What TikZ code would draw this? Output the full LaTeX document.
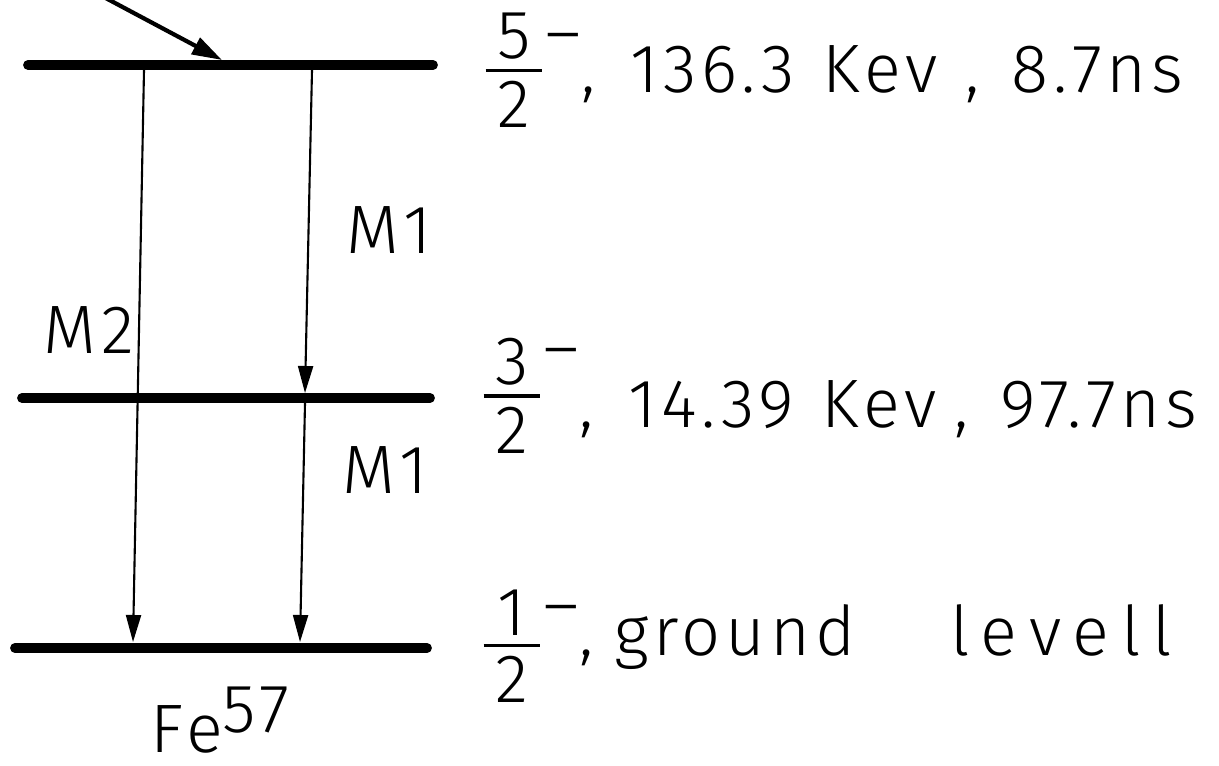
\documentclass[tikz,border=0pt]{standalone}
\usepackage{fontspec}
\setmainfont{Fira Sans}[UprightFont={* Light}, LetterSpace=7]
\usetikzlibrary{arrows.meta, positioning}

% spin fraction: numerator, raise of fraction, raise of parity sign
\newcommand{\spin}[3]{%
	\raisebox{#2}{$\vcenter{\hbox to 16pt{\hfil #1\hfil}\kern2.5pt\hrule height 1pt\kern2.5pt\hbox to 16pt{\hfil 2\hfil}}$}%
	\raisebox{#3}{\kern1pt--}}

\begin{document}
\begin{tikzpicture}[
	>=Stealth,
	every node/.style={font=\fontsize{19.5}{22}\selectfont, inner sep=0pt},
	level/.style={line width=2.8pt, line cap=round},
	gamma/.style={line width=0.6pt, -{Triangle[length=2.7mm, width=1.5mm]}},
	feed/.style={line width=1.2pt, -{Triangle[length=3mm, width=1.8mm]}}
	]
	\useasboundingbox (0,0) rectangle (12.19,-7.65);

	% =====================================================
	% LEVELS
	% =====================================================
	\coordinate (L5w) at (0.28,-0.65);
	\coordinate (L5e) at (4.33,-0.65);
	\coordinate (L3w) at (0.22,-3.98);
	\coordinate (L3e) at (4.30,-3.98);
	\coordinate (L1w) at (0.15,-6.48);
	\coordinate (L1e) at (4.27,-6.48);

	\draw[level] (L5w) -- (L5e);
	\draw[level] (L3w) -- (L3e);
	\draw[level] (L1w) -- (L1e);

	% =====================================================
	% TRANSITIONS
	% =====================================================
	\coordinate (feedin) at (1.00,0.05);
	\coordinate (feedend) at (2.22,-0.60);
	\coordinate (m2top) at (1.44,-0.70);
	\coordinate (m2end) at (1.33,-6.42);
	\coordinate (m1top) at (3.12,-0.70);
	\coordinate (m1mid) at (3.05,-3.93);
	\coordinate (m1low) at (3.05,-4.03);
	\coordinate (m1end) at (3.00,-6.42);

	\draw[feed] (feedin) -- (feedend);
	\draw[gamma] (m2top) -- (m2end);
	\draw[gamma] (m1top) -- (m1mid);
	\draw[gamma] (m1low) -- (m1end);

	\node[anchor=base west] (m1a) at (3.46,-2.53) {M1};
	\node[anchor=base west] (m2) at (0.43,-3.53) {M2};
	\node[anchor=base west] (m1b) at (3.42,-4.93) {M1};
	\node[anchor=base west] (fe) at (1.50,-7.52) {Fe\raisebox{5.6pt}{57}};

	% =====================================================
	% SPIN, ENERGY, LIFETIME
	% =====================================================
	\node[anchor=base west] (lvl5) at (4.85,-0.92)
		{\spin{5}{1pt}{10pt},\hspace{10pt}136.3\hspace{8pt}Kev\hspace{8pt},\hspace{9pt}8.7ns};
	\node[anchor=base west] (lvl3) at (4.83,-4.27)
		{\spin{3}{3.7pt}{15.7pt},\hspace{10pt}14.39\hspace{8pt}Kev\hspace{5pt},\hspace{9pt}97.7ns};
	\node[anchor=base west] (lvl1) at (4.83,-6.55)
		{\spin{1}{-2.6pt}{7.6pt},\hspace{6pt}ground\hspace{0.95cm}{\addfontfeature{LetterSpace=17}levell}};

\end{tikzpicture}
\end{document}
